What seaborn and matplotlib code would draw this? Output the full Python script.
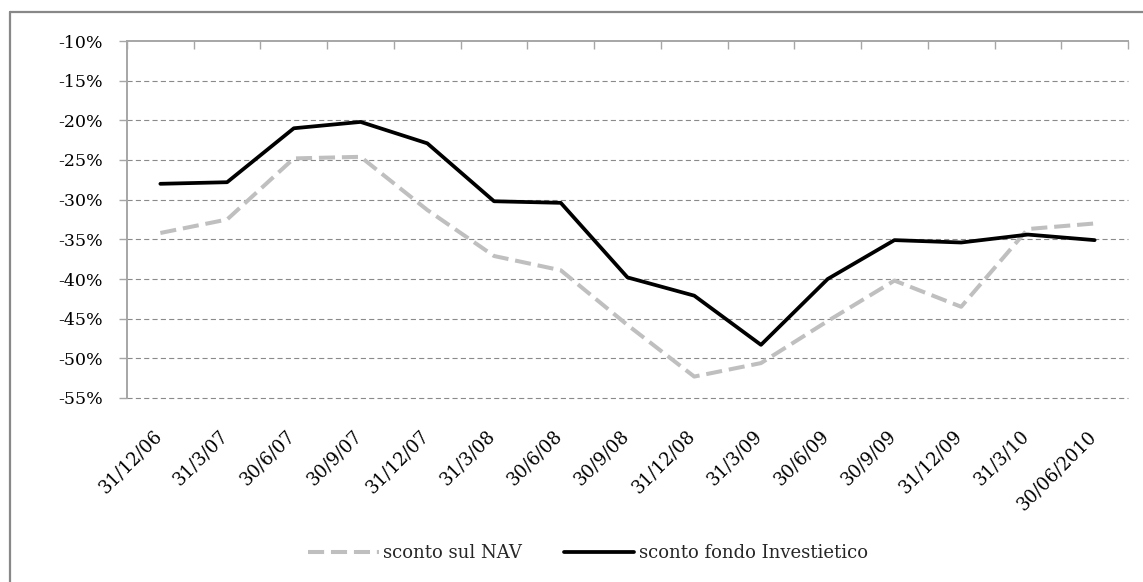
import matplotlib
matplotlib.use("Agg")
import matplotlib.pyplot as plt
import matplotlib.transforms as mtransforms
from matplotlib.lines import Line2D
import seaborn as sns
import pandas as pd
import numpy as np

dates = ["31/12/06", "31/3/07", "30/6/07", "30/9/07", "31/12/07", "31/3/08",
         "30/6/08", "30/9/08", "31/12/08", "31/3/09", "30/6/09", "30/9/09",
         "31/12/09", "31/3/10", "30/06/2010"]
sconto_nav = [-34.2, -32.5, -24.8, -24.6, -31.3, -37.1, -38.9, -45.8,
              -52.3, -50.6, -45.3, -40.2, -43.5, -33.7, -33.0]
sconto_fondo = [-28.0, -27.8, -21.0, -20.2, -22.9, -30.2, -30.4, -39.8,
                -42.1, -48.3, -40.0, -35.1, -35.4, -34.4, -35.1]
y_ticks = [-55, -50, -45, -40, -35, -30, -25, -20, -15, -10]
y_labels = [f"{v}%" for v in y_ticks]
series_names = ["sconto sul NAV", "sconto fondo Investietico"]

sns.set_theme(style="white")
plt.rcParams['font.family'] = ['DejaVu Serif']

W, H, DPI = 1143, 582, 100
fig = plt.figure(figsize=(W / DPI, H / DPI), dpi=DPI)
fig.patch.set_facecolor("white")

# axes placement in pixels
L, R, T, B = 127, 1128, 41, 398
ax = fig.add_axes([L / W, 1 - B / H, (R - L) / W, (B - T) / H])
ax.set_facecolor("white")

pos = np.arange(len(dates))
df = pd.DataFrame({"pos": pos, "nav": sconto_nav, "fondo": sconto_fondo})

gray = "#bfbfbf"
sns.lineplot(data=df, x="pos", y="nav", ax=ax, color=gray, linewidth=2.9,
             linestyle=(0, (4.0, 1.7)), label=series_names[0], legend=False)
sns.lineplot(data=df, x="pos", y="fondo", ax=ax, color="black", linewidth=2.7,
             label=series_names[1], legend=False)

ax.set_xlim(-0.5, len(dates) - 0.5)
ax.set_ylim(-55, -10)

# gridlines
for v in y_ticks[:-1]:
    ax.axhline(v, color="#8a8a8a", linewidth=0.8, linestyle=(0, (4.6, 2.9)),
               zorder=0, clip_on=False)

# spines
for s in ["right", "bottom"]:
    ax.spines[s].set_visible(False)
for s in ["top", "left"]:
    ax.spines[s].set_color("#a6a6a6")
    ax.spines[s].set_linewidth(1.4)

# y axis
ax.set_yticks(y_ticks)
ax.set_yticklabels(y_labels)
ax.tick_params(axis="y", which="major", left=True, direction="out", length=5.5,
               width=1.0, color="#a6a6a6", pad=12, labelsize=12.5, labelcolor="black")

# x axis: labels at bottom, boundary ticks on top
ax.set_xticks(pos)
ax.set_xticklabels(dates, rotation=45, ha="right", va="top")
ax.set_xticks(np.arange(-0.5, len(dates), 1.0), minor=True)
ax.tick_params(axis="x", which="major", bottom=True, top=False, length=0,
               pad=21, labelsize=13, labelcolor="black")
ax.tick_params(axis="x", which="minor", bottom=False, top=True, direction="in",
               length=6, width=1.0, color="#a6a6a6")
offset = mtransforms.ScaledTranslation(5 / DPI, 0, fig.dpi_scale_trans)
for lab in ax.get_xticklabels():
    lab.set_transform(lab.get_transform() + offset)

ax.set_xlabel("")
ax.set_ylabel("")

# outer chart frame (top and left edges)
fig.add_artist(Line2D([9.5 / W, 1.0], [1 - 12 / H, 1 - 12 / H], transform=fig.transFigure,
                      color="#888888", linewidth=1.6))
fig.add_artist(Line2D([9.5 / W, 9.5 / W], [0.0, 1 - 12 / H], transform=fig.transFigure,
                      color="#888888", linewidth=1.6))

handles, labels = ax.get_legend_handles_labels()
fig.legend(handles, labels, loc="center", bbox_to_anchor=(588 / W, 1 - 553 / H),
           ncol=2, frameon=False, fontsize=13, handlelength=3.9, handletextpad=0.25,
           columnspacing=2.3)

fig.savefig("out.png", dpi=DPI, facecolor="white")
